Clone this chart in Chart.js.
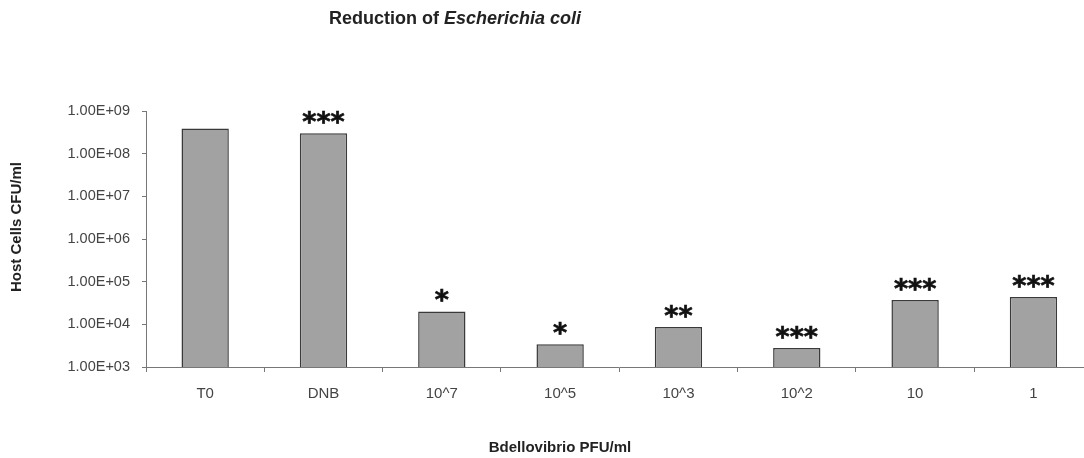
<!DOCTYPE html>
<html>
<head>
<meta charset="utf-8">
<script src="https://cdn.jsdelivr.net/npm/chart.js@4"></script>
<style>
  html, body { margin: 0; padding: 0; background: #fff; overflow: hidden; }
  #wrap { width: 1084px; height: 458px; overflow: hidden; position: relative; }
  canvas { display: block; }
</style>
</head>
<body>
<div id="wrap"><canvas id="c" width="1100" height="458"></canvas></div>
<script>
// Bdellovibrio dose series and surviving host counts (CFU/ml)
const categories = ['T0', 'DNB', '10^7', '10^5', '10^3', '10^2', '10', '1'];
const hostCells = [3.9e8, 3.0e8, 2.0e4, 3.4e3, 8.7e3, 2.8e3, 3.7e4, 4.4e4];
const significance = ['', '***', '*', '*', '**', '***', '***', '***'];
const yTickValues = [1e3, 1e4, 1e5, 1e6, 1e7, 1e8, 1e9];
const yTickLabels = ['1.00E+03', '1.00E+04', '1.00E+05', '1.00E+06', '1.00E+07', '1.00E+08', '1.00E+09'];

const chartTitle = ['Reduction of ', 'Escherichia coli'];
const xTitle = 'Bdellovibrio PFU/ml';
const yTitle = 'Host Cells CFU/ml';

const FONT = '"Liberation Sans", Arial, Helvetica, sans-serif';

// Significance stars above each bar
const starsPlugin = {
  id: 'stars',
  afterDatasetsDraw(chart) {
    const ctx = chart.ctx;
    const meta = chart.getDatasetMeta(0);
    ctx.save();
    ctx.fillStyle = '#111';
    ctx.strokeStyle = '#111';
    ctx.lineWidth = 0.7;
    ctx.font = 'bold 27px "DejaVu Sans", sans-serif';
    ctx.textAlign = 'center';
    ctx.textBaseline = 'alphabetic';
    meta.data.forEach((bar, i) => {
      const s = significance[i];
      if (!s) return;
      const m = ctx.measureText(s);
      const y = bar.y - 9 - m.actualBoundingBoxDescent;
      ctx.fillText(s, bar.x, y);
      ctx.strokeText(s, bar.x, y);
    });
    ctx.restore();
  }
};

// Chart title (partly italic) and axis titles
const titlesPlugin = {
  id: 'titles',
  afterDraw(chart) {
    const ctx = chart.ctx;
    ctx.save();
    ctx.fillStyle = '#222';
    ctx.textBaseline = 'middle';

    const f1 = 'bold 18px ' + FONT;
    const f2 = 'italic bold 18px ' + FONT;
    ctx.font = f1;
    const w1 = ctx.measureText(chartTitle[0]).width;
    ctx.font = f2;
    const w2 = ctx.measureText(chartTitle[1]).width;
    let x = 455 - (w1 + w2) / 2;
    ctx.textAlign = 'left';
    ctx.font = f1;
    ctx.fillText(chartTitle[0], x, 19);
    ctx.font = f2;
    ctx.fillText(chartTitle[1], x + w1, 19);

    ctx.font = 'bold 15px ' + FONT;
    ctx.textAlign = 'center';
    ctx.fillText(xTitle, 560, 448);

    ctx.translate(17, 227);
    ctx.rotate(-Math.PI / 2);
    ctx.fillText(yTitle, 0, 0);
    ctx.restore();
  }
};

new Chart(document.getElementById('c'), {
  type: 'bar',
  data: {
    labels: categories,
    datasets: [{
      data: hostCells,
      backgroundColor: '#a2a2a2',
      borderColor: '#3a3a3a',
      borderWidth: 1.5,
      barPercentage: 0.4,
      categoryPercentage: 1.0
    }]
  },
  options: {
    responsive: false,
    animation: false,
    devicePixelRatio: 1,
    layout: { padding: { left: 0, top: 111, right: 7.4, bottom: 0 } },
    plugins: {
      legend: { display: false },
      tooltip: { enabled: false }
    },
    scales: {
      x: {
        offset: true,
        grid: { offset: true, drawOnChartArea: false, tickLength: 5, color: '#777', lineWidth: 1 },
        border: { color: '#777', width: 1 },
        ticks: { color: '#444', padding: 13, font: { family: FONT, size: 15 } },
        afterFit(scale) { scale.height = 91; }
      },
      y: {
        type: 'logarithmic',
        min: 1e3,
        max: 1e9,
        afterBuildTicks(scale) {
          scale.ticks = yTickValues.map(v => ({ value: v, major: true }));
        },
        grid: { drawOnChartArea: false, tickLength: 4, color: '#777', lineWidth: 1 },
        border: { color: '#777', width: 1 },
        ticks: {
          color: '#444',
          padding: 12,
          font: { family: FONT, size: 14.5 },
          callback: (v) => yTickLabels[yTickValues.indexOf(v)]
        },
        afterFit(scale) { scale.width = 146; }
      }
    }
  },
  plugins: [starsPlugin, titlesPlugin]
});
</script>
</body>
</html>
